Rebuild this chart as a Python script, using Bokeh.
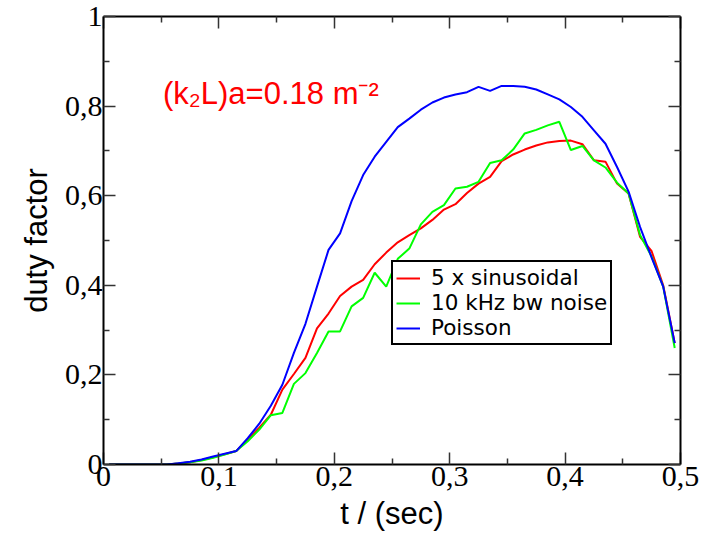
from bokeh.plotting import figure
from bokeh.models import (Range1d, FixedTicker, LinearAxis, Legend, LegendItem, Label,
                          CustomJSTickFormatter)
from bokeh.embed import file_html
from bokeh.resources import INLINE

# ---- data ----
t = [0.005, 0.015, 0.025, 0.035, 0.045, 0.055, 0.065, 0.075, 0.085, 0.095,
     0.105, 0.115, 0.125, 0.135, 0.145, 0.155, 0.165, 0.175, 0.185, 0.195,
     0.205, 0.215, 0.225, 0.235, 0.245, 0.255, 0.265, 0.275, 0.285, 0.295,
     0.305, 0.315, 0.325, 0.335, 0.345, 0.355, 0.365, 0.375, 0.385, 0.395,
     0.405, 0.415, 0.425, 0.435, 0.445, 0.455, 0.465, 0.475, 0.485, 0.495]

sinusoidal = [0, 0, 0, 0, 0, 0, 0.002, 0.005, 0.010, 0.016,
              0.023, 0.030, 0.056, 0.082, 0.111, 0.167, 0.202, 0.238, 0.304, 0.337,
              0.376, 0.397, 0.412, 0.447, 0.473, 0.496, 0.512, 0.527, 0.546, 0.569,
              0.581, 0.606, 0.627, 0.642, 0.677, 0.692, 0.703, 0.712, 0.719, 0.722,
              0.723, 0.715, 0.679, 0.676, 0.627, 0.605, 0.508, 0.476, 0.400, 0.271]

bw_noise = [0, 0, 0, 0, 0, 0, 0.002, 0.005, 0.009, 0.015,
            0.022, 0.030, 0.052, 0.078, 0.110, 0.115, 0.180, 0.204, 0.249, 0.297,
            0.297, 0.353, 0.372, 0.428, 0.397, 0.459, 0.482, 0.536, 0.564, 0.579,
            0.616, 0.620, 0.631, 0.673, 0.679, 0.703, 0.739, 0.747, 0.757, 0.765,
            0.702, 0.711, 0.679, 0.663, 0.629, 0.605, 0.512, 0.464, 0.397, 0.260]

poisson = [0, 0, 0, 0, 0, 0, 0.003, 0.006, 0.011, 0.018,
           0.024, 0.030, 0.059, 0.091, 0.131, 0.178, 0.249, 0.314, 0.397, 0.479,
           0.516, 0.588, 0.646, 0.687, 0.720, 0.753, 0.772, 0.792, 0.808, 0.819,
           0.826, 0.831, 0.843, 0.834, 0.845, 0.845, 0.843, 0.837, 0.826, 0.815,
           0.798, 0.776, 0.746, 0.716, 0.664, 0.609, 0.530, 0.462, 0.397, 0.271]

series_names = ["5 x sinusoidal", "10 kHz bw noise", "Poisson"]
series_colors = ["#ff0000", "#00ff00", "#0000ff"]

x_ticks = [0, 0.1, 0.2, 0.3, 0.4, 0.5]
x_tick_labels = ["0", "0,1", "0,2", "0,3", "0,4", "0,5"]
x_minor = [0.05, 0.15, 0.25, 0.35, 0.45]
y_ticks = [0, 0.2, 0.4, 0.6, 0.8, 1.0]
y_tick_labels = ["0", "0,2", "0,4", "0,6", "0,8", "1"]
y_minor = [0.1, 0.3, 0.5, 0.7, 0.9]

annotation = "(k\u2082L)a=0.18 m\u207b\u00b2"

# ---- figure ----
p = figure(width=702, height=533, x_range=Range1d(0, 0.5), y_range=Range1d(0, 1),
           output_backend="svg", toolbar_location=None,
           min_border_left=103, min_border_right=22, min_border_top=16, min_border_bottom=68,
           x_axis_location=None, y_axis_location=None)
p.xgrid.visible = False
p.ygrid.visible = False
p.outline_line_color = None
p.background_fill_color = "white"
p.border_fill_color = "white"

TICK_FONT = "Liberation Serif"
LABEL_FONT = "Liberation Sans"

def style_axis(ax, labels=True):
    ax.axis_line_color = "black"
    ax.axis_line_width = 2
    ax.major_tick_in = 12
    ax.major_tick_out = 0
    ax.minor_tick_in = 6
    ax.minor_tick_out = 0
    ax.major_tick_line_color = "#333333"
    ax.major_tick_line_width = 1.5
    ax.minor_tick_line_color = "#333333"
    ax.minor_tick_line_width = 1.5
    ax.major_label_text_font = TICK_FONT
    ax.major_label_text_color = "black"
    ax.axis_label_text_font = LABEL_FONT
    ax.axis_label_text_font_style = "normal"
    ax.axis_label_text_color = "black"
    if labels:
        ax.major_label_text_font_size = "30px"
    else:
        ax.formatter = CustomJSTickFormatter(code="return ''")
        ax.major_label_text_font_size = "1px"
        ax.major_label_standoff = 0

xb = LinearAxis(ticker=FixedTicker(ticks=x_ticks, minor_ticks=x_minor),
                major_label_overrides=dict(zip(x_ticks, x_tick_labels)))
style_axis(xb)
xb.axis_label = "t / (sec)"
xb.axis_label_text_font_size = "31px"
xb.major_label_standoff = 2
xb.axis_label_standoff = 7
p.add_layout(xb, "below")

yl = LinearAxis(ticker=FixedTicker(ticks=y_ticks, minor_ticks=y_minor),
                major_label_overrides=dict(zip(y_ticks, y_tick_labels)))
style_axis(yl)
yl.axis_label = "duty factor"
yl.axis_label_text_font_size = "31px"
yl.major_label_standoff = 1
yl.axis_label_standoff = 8
p.add_layout(yl, "left")

xt = LinearAxis(ticker=FixedTicker(ticks=x_ticks, minor_ticks=x_minor))
style_axis(xt, labels=False)
p.add_layout(xt, "above")

yr = LinearAxis(ticker=FixedTicker(ticks=y_ticks, minor_ticks=y_minor))
style_axis(yr, labels=False)
p.add_layout(yr, "right")

renderers = []
for vals, col in zip([sinusoidal, bw_noise, poisson], series_colors):
    r = p.line(t, vals, line_color=col, line_width=2)
    renderers.append(r)

legend = Legend(items=[LegendItem(label=n, renderers=[r]) for n, r in zip(series_names, renderers)],
                location=(288, 119), orientation="vertical")
legend.label_text_font = "DejaVu Sans"
legend.label_text_font_size = "21.5px"
legend.label_text_line_height = 0.98
legend.label_text_color = "black"
legend.border_line_color = "black"
legend.border_line_width = 2
legend.border_line_alpha = 1
legend.background_fill_color = "white"
legend.background_fill_alpha = 1
legend.padding = 3
legend.spacing = 0
legend.margin = 0
legend.glyph_width = 24
legend.glyph_height = 18
legend.label_height = 18
legend.label_standoff = 11
p.add_layout(legend, "center")

ann = Label(x=0.0515, y=0.829, text=annotation, text_color="#ff0000",
            text_font=LABEL_FONT, text_font_size="31px", text_baseline="alphabetic")
p.add_layout(ann)

open("out.html", "w").write(file_html(p, INLINE))
